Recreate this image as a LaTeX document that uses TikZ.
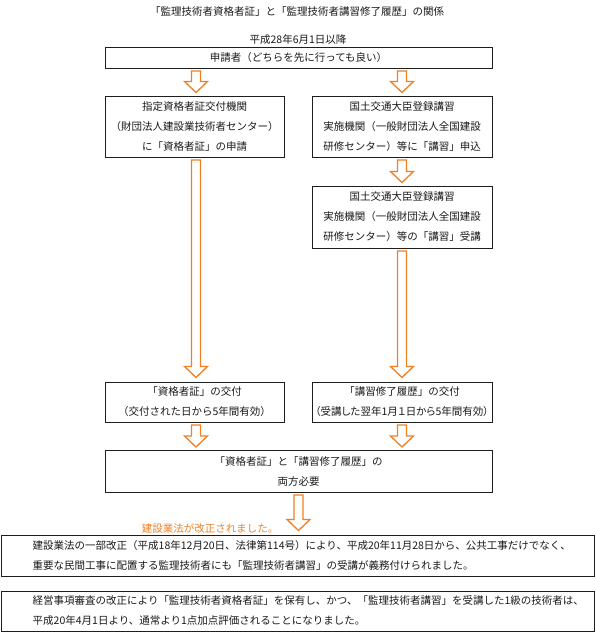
\documentclass[tikz,border=0pt]{standalone}
\usepackage{fontspec}
\setmainfont{Noto Sans CJK JP}
\usetikzlibrary{calc}
\definecolor{arrorange}{RGB}{240,128,36}
\definecolor{boxline}{RGB}{30,30,30}
\definecolor{txt}{RGB}{25,25,25}
\newcommand\jpsize{\fontsize{10.5}{20}\selectfont}
\newcommand\blockarrow[4]{% #1 x, #2 from node, #3 to node, #4 end gap
  \draw[barrow] let \p1=(#2.south), \p2=(#3.north) in
    ({#1pt-4.5pt},{\y1-2.5pt}) -- ({#1pt+4.5pt},{\y1-2.5pt})
    -- ({#1pt+4.5pt},{\y2+#4pt+11pt}) -- ({#1pt+11.5pt},{\y2+#4pt+11pt})
    -- ({#1pt},{\y2+#4pt}) -- ({#1pt-11.5pt},{\y2+#4pt+11pt})
    -- ({#1pt-4.5pt},{\y2+#4pt+11pt}) -- cycle;}
\tikzset{
  box/.style={draw=boxline, line width=1pt, inner sep=0pt, align=center,
    font=\jpsize, text=txt},
  plain/.style={inner sep=0pt, font=\jpsize, text=txt},
  barrow/.style={draw=arrorange, line width=1.3pt, fill=white, line join=miter}
}
\begin{document}
\begin{tikzpicture}[x=1pt,y=-1pt]
\useasboundingbox (0,0) rectangle (595,632);
\node[plain] (title) at (297,12) {「監理技術者資格者証」と「監理技術者講習修了履歴」の関係};
\node[plain] (date) at (298,40) {平成28年6月1日以降};
\node[box, minimum width=387pt, minimum height=21pt] (apply) at (298.5,57.5)
  {申請者（どちらを先に行っても良い）};
\node[box, minimum width=179pt, minimum height=61pt] (lreq) at (194.5,126.5)
  {指定資格者証交付機関\\（財団法人建設業技術者センター）\\に「資格者証」の申請};
\node[box, minimum width=180pt, minimum height=61pt] (rreq) at (402,126.5)
  {国土交通大臣登録講習\\実施機関（一般財団法人全国建設\\研修センター）等に「講習」申込};
\node[box, minimum width=180pt, minimum height=62pt] (rtake) at (402,217)
  {国土交通大臣登録講習\\実施機関（一般財団法人全国建設\\研修センター）等の「講習」受講};
\node[box, minimum width=179pt, minimum height=40pt] (lgive) at (194.5,402)
  {「資格者証」の交付\\（交付された日から5年間有効）};
\node[box, minimum width=180pt, minimum height=40pt] (rgive) at (402,402)
  {「講習修了履歴」の交付\\{\addfontfeature{RawFeature=+palt}（受講した翌年1月１日から5年間有効）}};
\node[box, minimum width=387pt, minimum height=42pt] (both) at (298.5,471)
  {「資格者証」と「講習修了履歴」の\\両方必要};
\node[plain, text=arrorange] (law) at (210,528) {建設業法が改正されました。};
\node[box, minimum width=593pt, minimum height=41pt] (note1) at (297.5,555.5) {};
\node[plain, anchor=west, align=left] (note1t) at ($(note1.west)+(32,0)$)
  {建設業法の一部改正（平成18年12月20日、法律第114号）により、平成20年11月28日から、公共工事だけでなく、\\重要な民間工事に配置する監理技術者にも「監理技術者講習」の受講が義務付けられました。};
\node[box, minimum width=593pt, minimum height=40pt] (note2) at (297.5,611) {};
\node[plain, anchor=west, align=left] (note2t) at ($(note2.west)+(32,0)$)
  {経営事項審査の改正により「監理技術者資格者証」を保有し、かつ、「監理技術者講習」を受講した1級の技術者は、\\平成20年4月1日より、通常より1点加点評価されることになりました。};
\blockarrow{196}{apply}{lreq}{3}
\blockarrow{402}{apply}{rreq}{3}
\blockarrow{402}{rreq}{rtake}{3}
\blockarrow{196}{lreq}{lgive}{4}
\blockarrow{402}{rtake}{rgive}{4}
\blockarrow{196}{lgive}{both}{2.5}
\blockarrow{402}{rgive}{both}{2.5}
\blockarrow{298.5}{both}{note1}{4}
\end{tikzpicture}
\end{document}
